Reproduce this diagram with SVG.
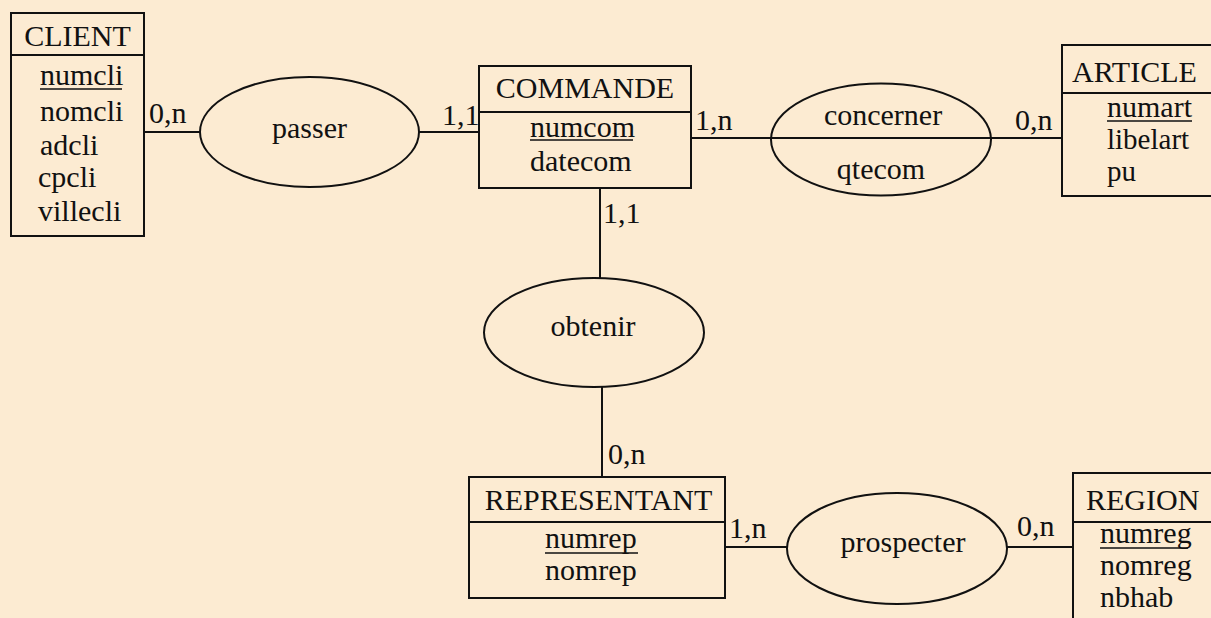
<svg xmlns="http://www.w3.org/2000/svg" width="1211" height="618" viewBox="0 0 1211 618">
<style>
  .bg { fill: #FCEBD2; }
  .box { fill: none; stroke: #111; stroke-width: 2; }
  .rel { fill: none; stroke: #111; stroke-width: 2; }
  .ln { stroke: #111; stroke-width: 2; fill: none; }
  .ul { stroke: #111; stroke-width: 1.5; }
  .t { font-family: 'Liberation Serif', 'Tinos', 'Times New Roman', 'DejaVu Serif', 'Noto Serif', serif; font-size: 30px; fill: #111; }
  .c { text-anchor: middle; }
  .s { font-size: 29px; }
</style>
<rect class="bg" x="0" y="0" width="1211" height="618"/>

<g id="connectors" class="t">
  <line class="ln" x1="144" y1="132" x2="200" y2="132"/>
  <line class="ln" x1="419" y1="132" x2="479" y2="132"/>
  <line class="ln" x1="691" y1="138" x2="771" y2="138"/>
  <line class="ln" x1="991" y1="138" x2="1062" y2="138"/>
  <line class="ln" x1="600" y1="188" x2="600" y2="278"/>
  <line class="ln" x1="602" y1="387" x2="602" y2="477"/>
  <line class="ln" x1="725" y1="547" x2="787" y2="547"/>
  <line class="ln" x1="1007" y1="547" x2="1073" y2="547"/>
  <text x="149" y="123">0,n</text>
  <text x="442" y="125">1,1</text>
  <text x="695" y="130">1,n</text>
  <text x="1015" y="130">0,n</text>
  <text x="603" y="223">1,1</text>
  <text x="608" y="464">0,n</text>
  <text x="729" y="538">1,n</text>
  <text x="1017" y="536">0,n</text>
</g>

<g id="client" class="t">
  <rect class="box" x="11" y="13" width="133" height="223"/>
  <line class="ln" x1="11" y1="55" x2="144" y2="55"/>
  <text class="c" x="77.5" y="46">CLIENT</text>
  <text x="40" y="85">numcli</text>
  <line class="ul" x1="40" y1="89" x2="122" y2="89"/>
  <text x="40" y="121">nomcli</text>
  <text x="40" y="155">adcli</text>
  <text x="38" y="187">cpcli</text>
  <text x="38" y="221">villecli</text>
</g>

<g id="passer" class="t">
  <ellipse class="rel" cx="309.5" cy="132" rx="109.5" ry="55"/>
  <text class="c" x="309.5" y="138">passer</text>
</g>

<g id="commande" class="t">
  <rect class="box" x="479" y="66" width="212" height="122"/>
  <line class="ln" x1="479" y1="112" x2="691" y2="112"/>
  <text class="c" x="585" y="98">COMMANDE</text>
  <text x="530" y="137">numcom</text>
  <line class="ul" x1="530" y1="140" x2="633" y2="140"/>
  <text x="530" y="171">datecom</text>
</g>

<g id="concerner" class="t">
  <ellipse class="rel" cx="881" cy="139.5" rx="110" ry="56"/>
  <line class="ln" x1="771" y1="138" x2="991" y2="138"/>
  <text class="c" x="883" y="125">concerner</text>
  <text class="c" x="881" y="179">qtecom</text>
</g>

<g id="article" class="t">
  <rect class="box" x="1062" y="45" width="160" height="151"/>
  <line class="ln" x1="1062" y1="93" x2="1222" y2="93"/>
  <text x="1072" y="82">ARTICLE</text>
  <text x="1107" y="117">numart</text>
  <line class="ul" x1="1107" y1="121" x2="1192" y2="121"/>
  <text class="s" x="1107" y="149">libelart</text>
  <text class="s" x="1107" y="181">pu</text>
</g>

<g id="obtenir" class="t">
  <ellipse class="rel" cx="594" cy="332.5" rx="110" ry="54.5"/>
  <text class="c" x="593" y="336">obtenir</text>
</g>

<g id="representant" class="t">
  <rect class="box" x="469" y="477" width="256" height="121"/>
  <line class="ln" x1="469" y1="522" x2="725" y2="522"/>
  <text class="c" x="598.5" y="510">REPRESENTANT</text>
  <text x="545" y="548">numrep</text>
  <line class="ul" x1="545" y1="553" x2="638" y2="553"/>
  <text x="545" y="580">nomrep</text>
</g>

<g id="prospecter" class="t">
  <ellipse class="rel" cx="897" cy="548.5" rx="110" ry="55.5"/>
  <text class="c" x="903" y="552">prospecter</text>
</g>

<g id="region" class="t">
  <rect class="box" x="1073" y="473" width="150" height="160"/>
  <line class="ln" x1="1073" y1="522" x2="1223" y2="522"/>
  <text x="1086" y="510">REGION</text>
  <text x="1100" y="543">numreg</text>
  <line class="ul" x1="1100" y1="548" x2="1188" y2="548"/>
  <text x="1100" y="575">nomreg</text>
  <text x="1100" y="607">nbhab</text>
</g>
</svg>
